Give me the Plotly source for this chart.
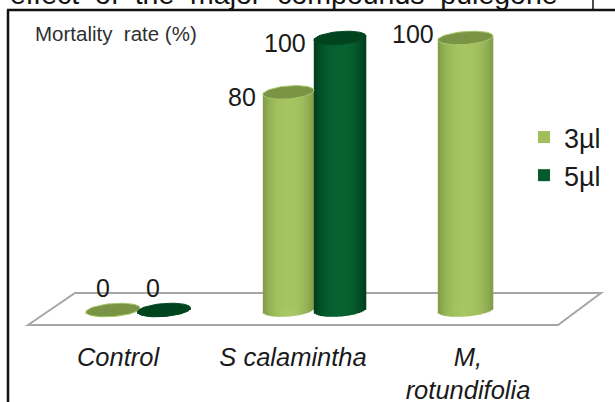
import numpy as np
import plotly.graph_objects as go

categories = ["Control", "S calamintha", "M,<br>rotundifolia"]
values_3ul = [0, 80, 100]
values_5ul = [0, 100, None]
series_names = ["3µl", "5µl"]
y_title = "Mortality\u00a0 rate (%)"
caption = "effect\u00a0 of\u00a0 the\u00a0 major\u00a0 compounds\u00a0 pulegone"

W, H = 615, 402
MB = 63
PH = H - MB
PX_X = 175.0      # pixels per category
X0_PX = 118.0     # pixel of first category
Y0_PX, Y100_PX = 310.0, 38.0
PX_Y = (Y0_PX - Y100_PX) / 100.0
FONT = "Liberation Sans"


def hexrgb(h):
    return np.array([int(h[i:i + 2], 16) for i in (1, 3, 5)], float)


def mix(a, b, f):
    c = hexrgb(a) + (hexrgb(b) - hexrgb(a)) * f
    return "rgb(%d,%d,%d)" % tuple(np.round(c))


styles = [
    dict(vals=values_3ul, off=[-5, -4.5, -2.5], wid=[54, 51, 55], edge="#7f9b48", mid="#a6c562",
         top="#7a9445", rim="#a9c86a", swatch="#a0bf5c",
         lab=[(-10, -22), (-47, 5), (-53, -4)]),
    dict(vals=values_5ul, off=[46, 47, 0], wid=[53, 52, 0], edge="#003c1c", mid="#076231",
         top="#00431f", rim="#004a23", swatch="#045a2c",
         lab=[(-11, -22), (-55, 5), (0, 0)]),
]

fig = go.Figure()
NSTRIP = 26
TILT_PX = 2.0
B_PX = 6.5
tk = np.arange(len(categories))

for s, st in enumerate(styles):
    idx = [i for i, v in enumerate(st["vals"]) if v is not None]
    xs = [int(tk[i]) for i in idx]
    vals = np.array([st["vals"][i] for i in idx], float)
    offs = np.array([st["off"][i] for i in idx], float) / PX_X
    wids = np.array([st["wid"][i] for i in idx], float) / PX_X
    # flat body with the exact values
    fig.add_trace(go.Bar(x=xs, y=vals, width=wids, offset=offs - wids / 2,
                         marker=dict(color=st["swatch"], line=dict(width=0)),
                         showlegend=False, hoverinfo="skip"))
    # vertical strips give the cylinder shading
    for k in range(NSTRIP):
        t = -1 + (2 * k + 1) / NSTRIP
        f = (1 - abs(t) ** 2.4)
        base = -(B_PX / PX_Y) * np.sqrt(1 - t * t) + (TILT_PX / PX_Y) * t
        top = vals + (TILT_PX / PX_Y) * t
        sw = wids / NSTRIP
        fig.add_trace(go.Bar(x=xs, y=top - base, base=base,
                             width=sw * 1.25,
                             offset=offs - wids / 2 + sw * k - sw * 0.1,
                             marker=dict(color=mix(st["edge"], st["mid"], f), line=dict(width=0)),
                             showlegend=False, hoverinfo="skip"))
    # top discs
    th = np.linspace(0, 2 * np.pi, 61)
    for j, i in enumerate(idx):
        cx = xs[j] + offs[j]
        ex = cx + wids[j] / 2 * np.cos(th)
        ey = vals[j] + (B_PX / PX_Y) * np.sin(th) + (TILT_PX / PX_Y) * np.cos(th)
        fig.add_trace(go.Scatter(x=ex, y=ey, mode="lines", fill="toself",
                                 fillcolor=st["top"], line=dict(color=st["rim"], width=1),
                                 showlegend=False, hoverinfo="skip"))
        dx, dy = st["lab"][i]
        fig.add_annotation(x=cx, y=vals[j], xref="x", yref="y", text=str(int(vals[j])),
                           showarrow=False, xshift=dx, yshift=-dy,
                           font=dict(family=FONT, size=25, color="#1a1a1a"))

# legend proxies
for s, st in enumerate(styles):
    fig.add_trace(go.Scatter(x=[None], y=[None], mode="markers", name=series_names[s],
                             legendgroup=series_names[s],
                             marker=dict(symbol="square", size=16 if s == 0 else 14, color=st["swatch"])))


def py(px):
    return (PH - px) / PH


floor = [(28, 325), (75, 293), (601, 293), (558, 325)]
path = "M" + " L".join(f"{a / W:.5f},{py(b):.5f}" for a, b in floor) + " Z"
shapes = [
    dict(type="path", xref="paper", yref="paper", path=path, layer="below",
         line=dict(color="#a6a6a6", width=2), fillcolor="white"),
    dict(type="line", xref="paper", yref="paper", x0=8 / W, x1=8 / W, y0=py(10), y1=py(H),
         line=dict(color="#111111", width=2.5)),
    dict(type="line", xref="paper", yref="paper", x0=7 / W, x1=1, y0=py(10), y1=py(10),
         line=dict(color="#111111", width=2.5)),
    dict(type="line", xref="paper", yref="paper", x0=593 / W, x1=593 / W, y0=py(0), y1=py(10),
         line=dict(color="#111111", width=1.5)),
]

fig.add_annotation(x=33 / W, y=py(33), xref="paper", yref="paper", xanchor="left", yanchor="middle",
                   text=y_title, showarrow=False,
                   font=dict(family=FONT, size=20.5, color="#303030"))
fig.add_annotation(x=8 / W, y=py(-6), xref="paper", yref="paper", xanchor="left", yanchor="middle",
                   text=caption, showarrow=False,
                   font=dict(family=FONT, size=28.5, color="#111111"))

fig.update_layout(
    width=W, height=H, margin=dict(l=0, r=0, t=0, b=MB, autoexpand=False),
    paper_bgcolor="white", plot_bgcolor="white",
    barmode="overlay", shapes=shapes,
    showlegend=True,
    legend=dict(x=524 / W, y=py(113), xanchor="left", yanchor="top", bgcolor="rgba(0,0,0,0)",
                font=dict(family=FONT, size=27, color="#1a1a1a"),
                tracegroupgap=0, itemwidth=30, itemsizing="constant"),
    xaxis=dict(range=[-X0_PX / PX_X, (W - X0_PX) / PX_X], tickmode="array",
               tickvals=list(tk), ticktext=categories, ticklen=0, showgrid=False,
               zeroline=False, showline=False, fixedrange=True,
               tickfont=dict(family=FONT, size=25.5, style="italic", color="#1a1a1a")),
    yaxis=dict(range=[(Y0_PX - PH) / PX_Y, Y0_PX / PX_Y], visible=False, fixedrange=True),
)
fig.write_html("out.html", config=dict(displayModeBar=False),
               post_script="document.body.style.margin='0';document.body.style.overflow='hidden';")
